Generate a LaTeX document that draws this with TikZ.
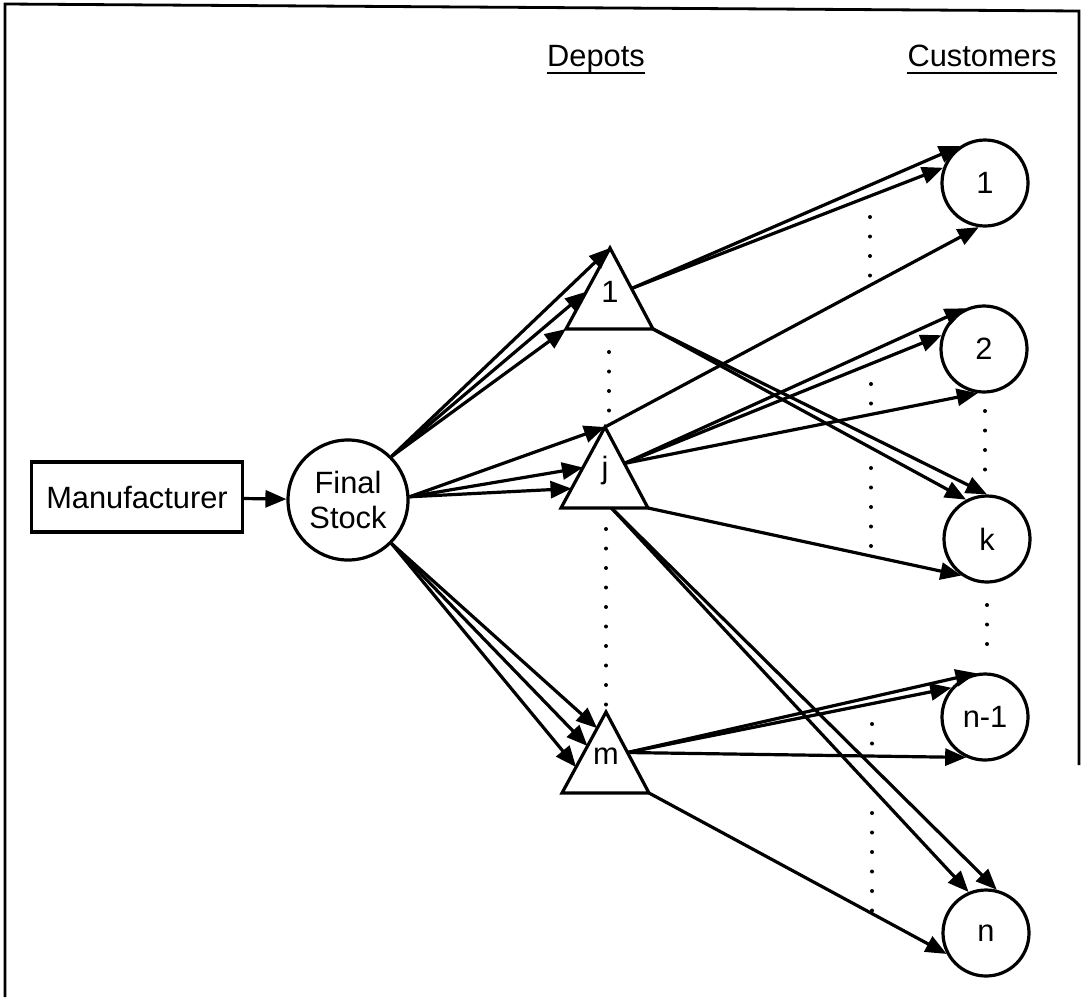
\documentclass[tikz,border=0pt]{standalone}
\usepackage{fontspec}
\setmainfont{Liberation Sans}
\usetikzlibrary{arrows.meta,calc}

% A depot: isosceles triangle given by its apex, with a centred label
\newcommand\depotshape[4]{%
  \coordinate (#1a) at (#2,#3);
  \coordinate (#1l) at ($(#1a)+(-44,81)$);
  \coordinate (#1r) at ($(#1a)+(43,81)$);
  \draw[tri] (#1a) -- (#1l) -- (#1r) -- cycle;
  \node[lbl] (#1) at ($(#1a)+(0,44)$) {#4};
}

\begin{document}
\begin{tikzpicture}[x=0.5pt,y=-0.5pt,
  every node/.style={font=\fontsize{15.4}{17.5}\selectfont},
  link/.style={line width=1.6pt},
  flow/.style={link,-{Triangle[length=10.5pt,width=8.5pt]}},
  cust/.style={circle,draw,line width=1.6pt,minimum size=43pt,inner sep=0pt},
  stock/.style={circle,draw,line width=1.6pt,minimum size=60pt,inner sep=0pt,align=center},
  box/.style={draw,line width=1.6pt,minimum width=105.5pt,minimum height=35pt,inner sep=0pt},
  tri/.style={line width=1.6pt,line join=miter},
  lbl/.style={inner sep=0pt},
  dots/.style={line width=2pt,line cap=round,dash pattern=on 0pt off 9.75pt},
  heading/.style={inner sep=0pt,anchor=base},
  uline/.style={line width=1.1pt}
]
\useasboundingbox (0,0) rectangle (1081,997);

% frame
\draw[line width=1.4pt] (1079,765) -- (1079,11) -- (5,4) -- (5,997);

% column headings
\node[heading] (dep) at (596,66) {Depots};
\node[heading] (cus) at (982,66) {Customers};
\draw[uline] ([yshift=-3.5pt]dep.base west) -- ([yshift=-3.5pt]dep.base east);
\draw[uline] ([yshift=-3.5pt]cus.base west) -- ([yshift=-3.5pt]cus.base east);

% source side
\node[box] (mfr) at (137,497) {Manufacturer};
\node[stock] (fs) at (348,500) {Final\\Stock};
\draw[flow] (mfr) -- (fs);

% depots
\depotshape{d1}{610}{248}{1}
\depotshape{dj}{605}{427}{j}
\depotshape{dm}{606}{712}{m}

% customers
\node[cust] (c1)  at (985,183) {1};
\node[cust] (c2)  at (984,349) {2};
\node[cust] (ck)  at (987,539) {k};
\node[cust] (cn1) at (985,717) {n-1};
\node[cust] (cn)  at (986,933) {n};

% final stock to depots
\draw[flow] (fs.45) -- (d1a);
\draw[flow] (fs.45) -- ($(d1a)!0.54!(d1l)$);
\draw[flow] (fs.45) -- (d1l);
\draw[flow] (fs.3) -- (dja);
\draw[flow] (fs.3) -- ($(dja)!0.5!(djl)$);
\draw[flow] (fs.3) -- ($(dja)!0.76!(djl)$);
\draw[flow] (fs.-45) -- ($(dma)!0.2!(dml)$);
\draw[flow] (fs.-45) -- ($(dma)!0.42!(dml)$);
\draw[flow] (fs.-45) -- ($(dma)!0.68!(dml)$);

% depot 1 to customers
\draw[flow] ($(d1a)!0.5!(d1r)$) -- (c1.124);
\draw[flow] ($(d1a)!0.5!(d1r)$) -- (c1.160);
\draw[flow] (d1r) -- (ck.118);
\draw[flow] (d1r) -- (ck.90);

% depot j to customers
\draw[flow] (dja) -- (c1.-98);
\draw[flow] ($(dja)!0.45!(djr)$) -- (c2.114);
\draw[flow] ($(dja)!0.45!(djr)$) -- (c2.162);
\draw[flow] ($(dja)!0.45!(djr)$) -- (c2.-98);
\draw[flow] (djr) -- (ck.-125);
\draw[flow] ($(djl)!0.58!(djr)$) -- (cn.113);
\draw[flow] ($(djl)!0.58!(djr)$) -- (cn.76);

% depot m to customers
\draw[flow] ($(dma)!0.5!(dmr)$) -- (cn1.101);
\draw[flow] ($(dma)!0.5!(dmr)$) -- (cn1.139);
\draw[flow] ($(dma)!0.5!(dmr)$) -- (cn1.-115);
\draw[flow] (dmr) -- (cn.-152);

% ellipsis dots between depots
\draw[dots] (609,352) -- (609,420);
\draw[dots] (606,529) -- (606,705);
% ellipsis dots between customers
\draw[dots] (985,411) -- (985,472);
\draw[dots] (987,605) -- (987,655);
% dotted guide between depots and customers
\draw[dots] (870,217) -- (870,280);
\draw[dots] (871,384) -- (871,405);
\draw[dots] (871,468) -- (871,550);
\draw[dots] (872,724) -- (872,745);
\draw[dots] (872,813) -- (872,915);
\end{tikzpicture}
\end{document}
